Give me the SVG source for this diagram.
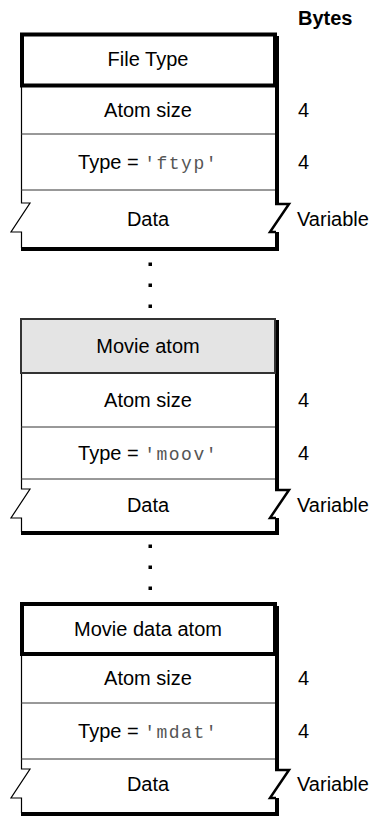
<svg xmlns="http://www.w3.org/2000/svg" width="376" height="819" viewBox="0 0 376 819">
<style>
text{font-family:"Liberation Sans",Arial,sans-serif;font-size:20px;fill:#000}
.c{text-anchor:middle}
.b{font-weight:bold}
.m{font-family:"Liberation Mono","Courier New",monospace;fill:#555;font-size:18px}
.sep{stroke:#333;stroke-width:1;fill:none}
.edge{stroke:#000;stroke-width:1.2;fill:none}
.zig{stroke:#000;stroke-width:1.5;fill:none;stroke-linejoin:miter}
.zigr{stroke:#000;stroke-width:2.5;fill:none}
.hdr{fill:#fff;stroke:#000;stroke-width:4}
.hdrg{fill:#e4e4e4;stroke:#333;stroke-width:2}
.dot{fill:#000}
</style>
<rect width="376" height="819" fill="#fff"/>
<text class="b" x="298" y="25">Bytes</text>

<g id="atom-ftyp">
  <rect x="275" y="36" width="4" height="167" fill="#000"/>
  <rect x="275" y="232" width="4" height="19" fill="#000"/>
  <rect x="21" y="247" width="258" height="4" fill="#000"/>
  <path class="edge" d="M21.5,86 V203 H30 L11,232 H21.5 V248"/>
  <path class="zigr" d="M275,204 H289 L270,232 H276"/>
  <line class="sep" x1="21" y1="134" x2="275" y2="134"/>
  <line class="sep" x1="21" y1="190" x2="275" y2="190"/>
  <rect class="hdr" x="22" y="34.5" width="253" height="51"/>
  <text class="c" x="148" y="66">File Type</text>
  <text class="c" x="148" y="117">Atom size</text>
  <text class="c" x="148" y="169">Type = <tspan class="m" letter-spacing="1.5">'ftyp'</tspan></text>
  <text class="c" x="148" y="226">Data</text>
  <text x="298" y="117">4</text>
  <text x="298" y="169">4</text>
  <text x="297" y="226">Variable</text>
</g>

<g id="dots-1">
  <rect class="dot" x="148.5" y="262.5" width="3.5" height="3.5"/>
  <rect class="dot" x="148.5" y="283.5" width="3.5" height="3.5"/>
  <rect class="dot" x="148.5" y="304.5" width="3.5" height="3.5"/>
</g>

<g id="atom-moov">
  <rect x="275" y="320" width="4" height="169" fill="#000"/>
  <rect x="275" y="518" width="4" height="17" fill="#000"/>
  <rect x="21" y="531" width="258" height="4" fill="#000"/>
  <path class="edge" d="M21.5,373 V489 H30 L11,518 H21.5 V532"/>
  <path class="zigr" d="M275,490 H289 L270,518 H276"/>
  <line class="sep" x1="21" y1="427" x2="275" y2="427"/>
  <line class="sep" x1="21" y1="479" x2="275" y2="479"/>
  <rect class="hdrg" x="21" y="319" width="254" height="54"/>
  <text class="c" x="148" y="353">Movie atom</text>
  <text class="c" x="148" y="407">Atom size</text>
  <text class="c" x="148" y="460">Type = <tspan class="m" letter-spacing="1.5">'moov'</tspan></text>
  <text class="c" x="148" y="512">Data</text>
  <text x="298" y="407">4</text>
  <text x="298" y="460">4</text>
  <text x="297" y="512">Variable</text>
</g>

<g id="dots-2">
  <rect class="dot" x="148.5" y="544.5" width="3.5" height="3.5"/>
  <rect class="dot" x="148.5" y="565.5" width="3.5" height="3.5"/>
  <rect class="dot" x="148.5" y="586.5" width="3.5" height="3.5"/>
</g>

<g id="atom-mdat">
  <rect x="275" y="606" width="4" height="163" fill="#000"/>
  <rect x="275" y="798" width="4" height="18" fill="#000"/>
  <rect x="21" y="812" width="258" height="4" fill="#000"/>
  <path class="edge" d="M21.5,654 V769 H30 L11,798 H21.5 V813"/>
  <path class="zigr" d="M275,770 H289 L270,798 H276"/>
  <line class="sep" x1="21" y1="703" x2="275" y2="703"/>
  <line class="sep" x1="21" y1="759" x2="275" y2="759"/>
  <rect class="hdr" x="22" y="604" width="253" height="50"/>
  <text class="c" x="148" y="636">Movie data atom</text>
  <text class="c" x="148" y="685">Atom size</text>
  <text class="c" x="148" y="738">Type = <tspan class="m" letter-spacing="1.5">'mdat'</tspan></text>
  <text class="c" x="148" y="791">Data</text>
  <text x="298" y="685">4</text>
  <text x="298" y="738">4</text>
  <text x="297" y="791">Variable</text>
</g>
</svg>
